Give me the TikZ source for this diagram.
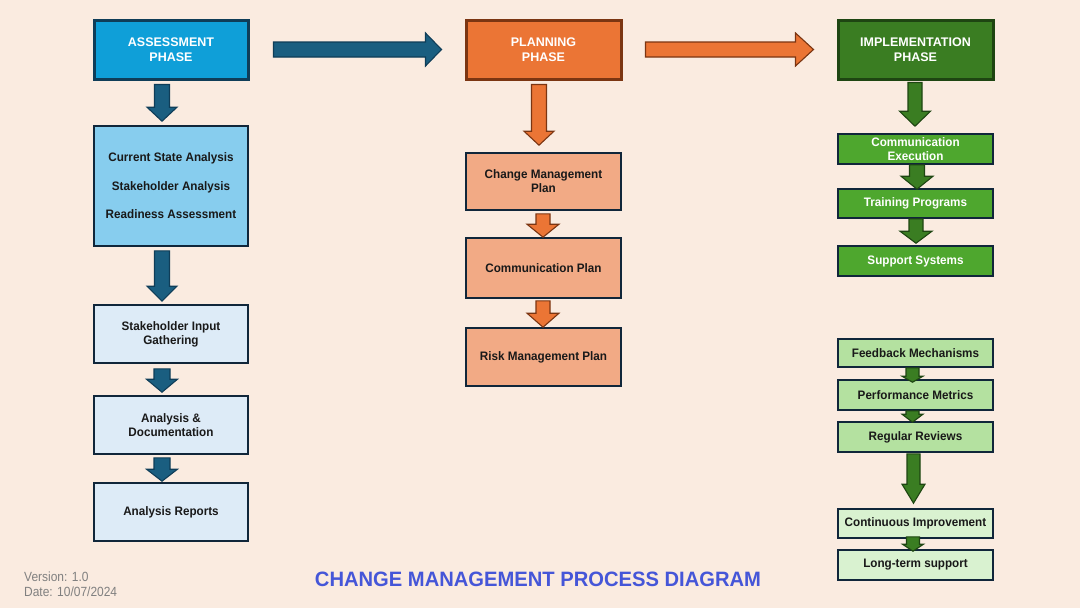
\documentclass[tikz,border=0pt]{standalone}
\usepackage{fontspec}
\setmainfont{Liberation Sans}
\newfontfamily\boxfont[FakeStretch=0.95]{Liberation Sans}
\newfontfamily\footfont[FakeStretch=0.9]{Liberation Sans}
\newfontfamily\titlefont[FakeStretch=0.97]{Liberation Sans}
\definecolor{bgc}{HTML}{FAEBE0}
\definecolor{asfill}{HTML}{0F9FD8}
\definecolor{asdark}{HTML}{0F3D58}
\definecolor{asarrow}{HTML}{1A5E80}
\definecolor{asmid}{HTML}{87CDEE}
\definecolor{aslight}{HTML}{DDEBF7}
\definecolor{navy}{HTML}{10263A}
\definecolor{plfill}{HTML}{EB7535}
\definecolor{pldark}{HTML}{7B3512}
\definecolor{pllight}{HTML}{F2AA85}
\definecolor{imfill}{HTML}{3A7D22}
\definecolor{imdark}{HTML}{1E4512}
\definecolor{immid}{HTML}{4EA72E}
\definecolor{imlight}{HTML}{B4E1A0}
\definecolor{imvlight}{HTML}{D9F2D0}
\definecolor{titleblue}{HTML}{4556D8}
\definecolor{foot}{HTML}{808080}
\tikzset{
  phasebox/.style={draw, line width=3pt, rectangle, inner sep=0pt, align=center, text=white,
     font=\fontsize{12.5}{15}\selectfont\bfseries},
  subbox/.style={draw=navy, line width=1.6pt, rectangle, inner sep=0pt, align=center, text=black!90,
     font=\boxfont\fontsize{12.3}{14}\selectfont\bfseries},
  blueblk/.style={fill=asarrow, draw=asdark, line width=1.1pt, line join=miter},
  orangeblk/.style={fill=plfill, draw=pldark, line width=1.1pt, line join=miter},
  greenblk/.style={fill=imfill, draw=imdark, line width=1.1pt, line join=miter},
}
% box: name, x1, y1, x2, y2, style, text
\newcommand\bx[7]{\node[#6, minimum width={(#4-#2)*1pt}, minimum height={(#5-#3)*1pt}] (#1) at ({(#2+#4)/2},{(#3+#5)/2}) {#7};}
% vertical block arrow: from, to, dx, topgap, tipgap, headlen, shafthalf, headhalf, style
\newcommand\varr[9]{\draw[#9]
  ([xshift=(#3-#7)*1pt,yshift=-#4pt]#1.south) --
  ([xshift=(#3+#7)*1pt,yshift=-#4pt]#1.south) --
  ([xshift=(#3+#7)*1pt,yshift=(#5+#6)*1pt]#2.north) --
  ([xshift=(#3+#8)*1pt,yshift=(#5+#6)*1pt]#2.north) --
  ([xshift=#3pt,yshift=#5pt]#2.north) --
  ([xshift=(#3-#8)*1pt,yshift=(#5+#6)*1pt]#2.north) --
  ([xshift=(#3-#7)*1pt,yshift=(#5+#6)*1pt]#2.north) -- cycle;}
% horizontal block arrow: from, to, leftgap, tipgap, headlen, shafthalf, headhalf, style
\newcommand\harr[8]{\draw[#8]
  ([xshift=#3pt,yshift=#6pt]#1.east) --
  ([xshift=-(#4+#5)*1pt,yshift=#6pt]#2.west) --
  ([xshift=-(#4+#5)*1pt,yshift=#7pt]#2.west) --
  ([xshift=-#4pt]#2.west) --
  ([xshift=-(#4+#5)*1pt,yshift=-#7pt]#2.west) --
  ([xshift=-(#4+#5)*1pt,yshift=-#6pt]#2.west) --
  ([xshift=#3pt,yshift=-#6pt]#1.east) -- cycle;}
\begin{document}
\begin{tikzpicture}[x=1pt,y=-1pt]
\fill[bgc] (0,0) rectangle (1080,608);
\useasboundingbox (0,0) rectangle (1080,608);
% Assessment column
\bx{A0}{94}{20}{248}{79}{phasebox, fill=asfill, draw=asdark}{ASSESSMENT\\PHASE}
\bx{A1}{94}{126}{248}{246}{subbox, fill=asmid, font=\boxfont\fontsize{12.3}{28.5}\selectfont\bfseries}{Current State Analysis\\Stakeholder Analysis\\Readiness Assessment}
\bx{A2}{94}{305}{248}{363}{subbox, fill=aslight}{Stakeholder Input\\Gathering}
\bx{A3}{94}{396}{248}{454}{subbox, fill=aslight}{Analysis \&\\Documentation}
\bx{A4}{94}{483}{248}{541}{subbox, fill=aslight}{Analysis Reports}
% Planning column
\bx{P0}{466}{20}{621}{79}{phasebox, fill=plfill, draw=pldark}{PLANNING\\PHASE}
\bx{P1}{466}{153}{621}{210}{subbox, fill=pllight}{Change Management\\Plan}
\bx{P2}{466}{238}{621}{298}{subbox, fill=pllight}{Communication Plan}
\bx{P3}{466}{328}{621}{386}{subbox, fill=pllight}{Risk Management Plan}
% Implementation column
\bx{I0}{838}{20}{993}{79}{phasebox, fill=imfill, draw=imdark}{IMPLEMENTATION\\PHASE}
\bx{I1}{838}{134}{993}{164}{subbox, fill=immid, text=white}{Communication\\Execution}
\bx{I2}{838}{189}{993}{218}{subbox, fill=immid, text=white}{Training Programs}
\bx{I3}{838}{246}{993}{276}{subbox, fill=immid, text=white}{Support Systems}
\bx{L1}{838}{339}{993}{367}{subbox, fill=imlight}{Feedback Mechanisms}
\bx{L2}{838}{380}{993}{410}{subbox, fill=imlight}{Performance Metrics}
\bx{L3}{838}{422}{993}{452}{subbox, fill=imlight}{Regular Reviews}
\bx{L4}{838}{509}{993}{538}{subbox, fill=imvlight}{Continuous Improvement}
\bx{L5}{838}{550}{993}{580}{subbox, fill=imvlight}{Long-term support}
% horizontal arrows
\harr{A0}{P0}{24}{23}{16}{7.5}{16.5}{blueblk}
\harr{P0}{I0}{23}{23}{18}{7.5}{16.5}{orangeblk}
% vertical arrows
\varr{A0}{A1}{-9}{4}{4}{14}{7.5}{15}{blueblk}
\varr{A1}{A2}{-9}{4}{3}{15}{7.5}{15}{blueblk}
\varr{A2}{A3}{-9}{5}{3}{13}{8}{15.5}{blueblk}
\varr{A3}{A4}{-9}{3}{1}{12}{8}{15.5}{blueblk}
\varr{P0}{P1}{-4.5}{4}{7}{14}{7.5}{15}{orangeblk}
\varr{P1}{P2}{-0.5}{3}{0}{13}{7}{16}{orangeblk}
\varr{P2}{P3}{-0.5}{2}{0}{14}{7}{16}{orangeblk}
\varr{I0}{I1}{-0.5}{2}{7}{15}{7}{15.5}{greenblk}
\varr{I1}{I2}{1.5}{0}{-1}{13}{7.5}{16}{greenblk}
\varr{I2}{I3}{0.5}{0}{2}{12}{7}{16}{greenblk}
\varr{L1}{L2}{-3}{0}{-3}{6}{6.5}{10.5}{greenblk}
\varr{L2}{L3}{-3}{0}{-1}{8}{6.5}{10.5}{greenblk}
\varr{L3}{L4}{-2}{1}{5}{19}{6.5}{11.5}{greenblk}
\varr{L4}{L5}{-2.5}{-2}{-2}{7}{6.5}{10.5}{greenblk}
% footer
\node[anchor=center, text=titleblue, font=\titlefont\fontsize{20.8}{24}\selectfont\bfseries, inner sep=0pt] (title) at (538,579) {CHANGE MANAGEMENT PROCESS DIAGRAM};
\node[anchor=west, text=foot, font=\footfont\fontsize{13.3}{15}\selectfont, inner sep=0pt] (ver) at (24,577) {Version: 1.0};
\node[anchor=west, text=foot, font=\footfont\fontsize{13.3}{15}\selectfont, inner sep=0pt] (date) at (24,592) {Date: 10/07/2024};
\end{tikzpicture}
\end{document}
